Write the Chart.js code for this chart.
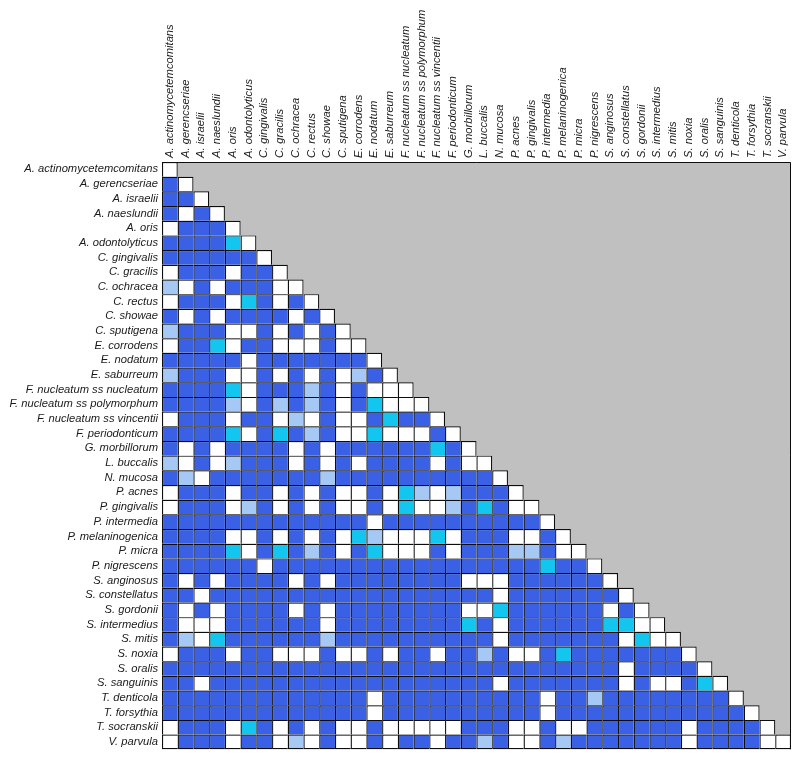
<!DOCTYPE html>
<html><head><meta charset="utf-8">
<script src="https://cdn.jsdelivr.net/npm/chart.js@4"></script>
<style>html,body{margin:0;padding:0;background:#fff}#wrap{width:800px;height:760px}</style>
</head><body><div id="wrap"><canvas id="c" width="800" height="760"></canvas></div>
<script>
const species = [
  'A. actinomycetemcomitans','A. gerencseriae','A. israelii','A. naeslundii','A. oris',
  'A. odontolyticus','C. gingivalis','C. gracilis','C. ochracea','C. rectus',
  'C. showae','C. sputigena','E. corrodens','E. nodatum','E. saburreum',
  'F. nucleatum ss nucleatum','F. nucleatum ss polymorphum','F. nucleatum ss vincentii','F. periodonticum','G. morbillorum',
  'L. buccalis','N. mucosa','P. acnes','P. gingivalis','P. intermedia',
  'P. melaninogenica','P. micra','P. nigrescens','S. anginosus','S. constellatus',
  'S. gordonii','S. intermedius','S. mitis','S. noxia','S. oralis',
  'S. sanguinis','T. denticola','T. forsythia','T. socranskii','V. parvula'
];
// cell codes: 0 = white, 1 = blue, 2 = light blue, 3 = cyan (lower triangle incl. diagonal)
const cells = [
  [0],
  [1,0],
  [1,1,0],
  [1,0,1,0],
  [0,1,1,1,0],
  [1,1,1,1,3,0],
  [1,1,1,1,1,1,0],
  [0,1,1,1,0,1,1,0],
  [2,0,1,0,1,1,1,0,0],
  [0,1,1,1,0,3,1,0,1,0],
  [1,0,1,0,1,1,1,1,0,1, 0],
  [2,1,1,1,0,0,1,0,1,0, 1,0],
  [0,1,1,3,0,1,1,0,0,0, 1,0,0],
  [1,1,1,1,1,0,1,1,1,1, 1,1,1,0],
  [2,1,1,1,0,0,1,0,1,0, 1,0,2,1,0],
  [1,1,1,1,3,0,1,1,1,2, 1,0,1,0,0,0],
  [1,1,1,1,2,0,1,2,1,2, 1,0,1,3,0,0,0],
  [0,1,1,1,0,1,1,0,2,0, 1,0,0,1,3,1,1,0],
  [1,1,1,1,3,0,1,3,1,2, 1,0,0,3,0,0,0,1,0],
  [1,0,1,0,1,1,1,1,0,1, 0,1,1,1,1,1,1,3,1,0],
  [2,0,1,0,2,1,1,1,0,1, 0,1,0,1,1,1,1,0,1,0, 0],
  [1,2,0,1,1,1,1,1,1,1, 2,1,1,1,1,1,1,1,1,1, 1,0],
  [0,1,1,1,0,1,1,0,1,0, 1,0,0,1,0,3,2,0,2,1, 1,1,0],
  [0,1,1,1,0,2,1,0,1,0, 1,0,0,1,0,3,0,0,2,1, 3,1,0,0],
  [1,1,1,1,1,1,1,1,1,1, 1,1,1,0,1,1,1,1,1,1, 1,1,1,1,0],
  [1,1,1,1,0,0,1,0,1,0, 1,0,3,2,0,0,0,3,0,1, 1,1,0,0,1,0],
  [1,1,1,1,3,0,1,3,1,2, 1,0,1,3,0,0,0,1,0,1, 1,1,2,2,1,0,0],
  [1,1,1,1,1,1,0,1,1,1, 1,1,1,1,1,1,1,1,1,1, 1,1,1,1,3,1,1,0],
  [1,0,1,0,1,1,1,1,0,1, 0,1,1,1,1,1,1,1,1,0, 0,0,1,1,1,1,1,1,0],
  [1,1,0,1,1,1,1,1,1,1, 1,1,1,1,1,1,1,1,1,1, 1,0,1,1,1,1,1,1,1,0],
  [1,0,1,0,1,1,1,1,0,1, 0,1,1,1,1,1,1,1,1,0, 0,3,1,1,1,1,1,1,0,1, 0],
  [1,0,0,0,1,1,1,1,1,1, 0,1,1,1,1,1,1,1,1,3, 1,0,1,1,1,1,1,1,3,3, 0,0],
  [1,2,0,3,1,1,1,1,1,1, 2,1,1,1,1,1,1,1,1,1, 1,0,1,1,1,1,1,1,1,0, 3,0,0],
  [0,1,1,1,0,1,1,0,0,0, 1,0,0,1,0,1,1,0,1,1, 2,1,0,0,1,3,1,1,1,1, 1,1,1,0],
  [1,1,1,1,1,1,1,1,1,1, 1,1,1,1,1,1,1,1,1,1, 1,1,1,1,1,1,1,1,1,0, 1,1,1,1,0],
  [1,1,0,1,1,1,1,1,1,1, 1,1,1,1,1,1,1,1,1,1, 1,0,1,1,1,1,1,1,1,0, 1,0,0,1,3,0],
  [1,1,1,1,1,1,1,1,1,1, 1,1,1,0,1,1,1,1,1,1, 1,1,1,1,0,1,1,2,1,1, 1,1,1,1,1,1,0],
  [1,1,1,1,1,1,1,1,1,1, 1,1,1,0,1,1,1,1,1,1, 1,1,1,1,0,1,1,1,1,1, 1,1,1,1,1,1,1,0],
  [0,1,1,1,0,3,1,0,1,0, 1,0,0,1,0,0,0,0,0,1, 1,1,0,0,1,0,0,1,1,1, 1,1,1,0,1,1,1,1,0],
  [0,1,1,1,0,1,1,0,2,0, 1,0,0,1,0,1,1,0,1,1, 2,1,0,0,1,2,1,1,1,1, 1,1,1,0,1,1,1,1,0,0]
];
const palette = ['#ffffff', '#3a60e6', '#a6c8f4', '#12c6ef'];
const upperFill = '#c0c0c0';
const lineColor = '#0d0d0d';
const n = species.length;

const datasets = cells.map((row, r) => ({
  label: species[r],
  data: species.map((_, c) => c < row.length ? [r, r + 1] : null),
  backgroundColor: species.map((_, c) => c < row.length ? palette[row[c]] : 'rgba(0,0,0,0)'),
  borderColor: lineColor,
  borderWidth: ctx => ({
    top: 1.2, left: 1.2,
    right: ctx.dataIndex === ctx.datasetIndex ? 1.2 : 0,
    bottom: ctx.datasetIndex === n - 1 ? 1.2 : 0
  }),
  borderSkipped: false,
  grouped: false,
  barPercentage: 1,
  categoryPercentage: 1,
  inflateAmount: 0
}));

const frame = {
  id: 'frame',
  beforeDatasetsDraw(chart) {
    const {ctx, chartArea: a} = chart;
    ctx.save();
    ctx.fillStyle = upperFill;
    ctx.fillRect(a.left, a.top, a.right - a.left, a.bottom - a.top);
    ctx.restore();
  },
  afterDatasetsDraw(chart) {
    const {ctx, chartArea: a} = chart;
    ctx.save();
    ctx.strokeStyle = lineColor;
    ctx.lineWidth = 1;
    ctx.beginPath();
    ctx.moveTo(a.left, a.top + 0.5);
    ctx.lineTo(a.right - 0.5, a.top + 0.5);
    ctx.lineTo(a.right - 0.5, a.bottom);
    ctx.stroke();
    ctx.restore();
  }
};

const fontSize = 11.2;
const font = {family: "'Liberation Sans', Arial, sans-serif", size: fontSize, style: 'italic'};

new Chart(document.getElementById('c'), {
  type: 'bar',
  data: {labels: species, datasets},
  plugins: [frame],
  options: {
    responsive: false,
    animation: false,
    devicePixelRatio: 1,
    layout: {padding: {top: 0, right: 9, bottom: 8, left: 0}},
    plugins: {legend: {display: false}, tooltip: {enabled: false}},
    scales: {
      x: {
        type: 'category',
        position: 'top',
        offset: true,
        grid: {display: false, drawTicks: false},
        border: {display: false},
        ticks: {autoSkip: false, minRotation: 90, maxRotation: 90, padding: 4,
          labelOffset: fontSize * 1.2, color: '#1a1a1a', font},
        afterFit: s => { s.height = 162; }
      },
      y: {
        type: 'linear',
        min: 0, max: n,
        reverse: true,
        grid: {display: false, drawTicks: false},
        border: {display: false},
        afterBuildTicks: s => { s.ticks = species.map((_, i) => ({value: i + 0.5})); },
        ticks: {autoSkip: false, padding: 4, color: '#1a1a1a', font,
          callback: v => species[Math.floor(v)]},
        afterFit: s => { s.width = 162; }
      }
    }
  }
});
</script>
</body></html>
